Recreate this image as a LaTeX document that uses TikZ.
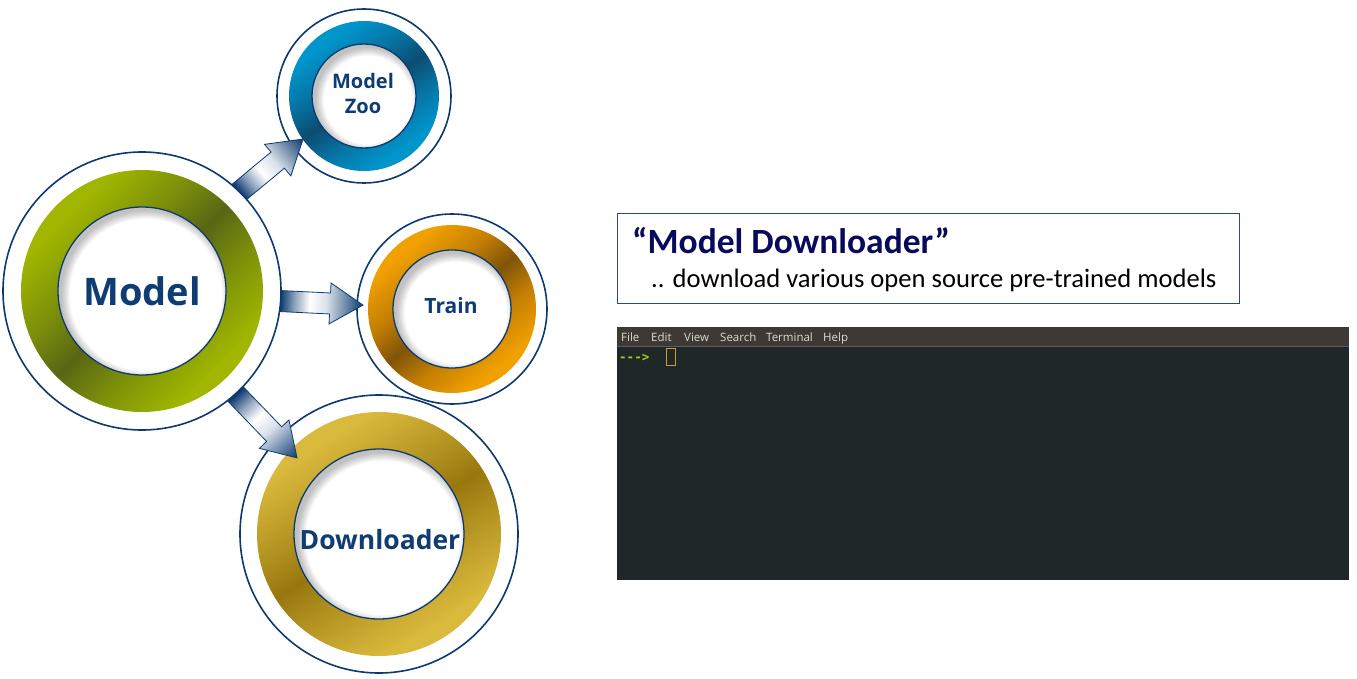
\documentclass[tikz,border=0pt]{standalone}
\usepackage{fontspec}
\setmainfont{Open Sans}
\newfontfamily\labelfont{Open Sans}
\newfontfamily\slidefont{Carlito}
\newfontfamily\uifont{Open Sans}
\newfontfamily\termfont{DejaVu Sans Mono}
\usetikzlibrary{calc}

% palette
\definecolor{navy}{RGB}{12,58,112}
\definecolor{labelblue}{RGB}{14,60,115}
\definecolor{titleblue}{RGB}{10,10,92}
\definecolor{boxline}{RGB}{40,75,125}
\definecolor{greenL}{RGB}{160,182,0}
\definecolor{greenM}{RGB}{124,144,10}
\definecolor{greenD}{RGB}{88,102,20}
\definecolor{blueL}{RGB}{0,150,204}
\definecolor{blueM}{RGB}{6,116,164}
\definecolor{blueD}{RGB}{12,76,112}
\definecolor{orangeL}{RGB}{240,160,0}
\definecolor{orangeM}{RGB}{196,126,4}
\definecolor{orangeD}{RGB}{128,84,8}
\definecolor{goldL}{RGB}{218,186,60}
\definecolor{goldM}{RGB}{184,152,36}
\definecolor{goldD}{RGB}{152,120,14}
\definecolor{menubar}{RGB}{61,58,53}
\definecolor{menutext}{RGB}{222,219,212}
\definecolor{termbg}{RGB}{31,39,41}
\definecolor{prompt}{RGB}{178,200,30}
\definecolor{cursor}{RGB}{200,160,40}

% ring shadings: light - dark - light across the ring
\pgfdeclarehorizontalshading{greenring}{100bp}{color(0bp)=(greenL); color(28bp)=(greenL); color(40bp)=(greenM); color(50bp)=(greenD); color(60bp)=(greenM); color(72bp)=(greenL); color(100bp)=(greenL)}
\pgfdeclarehorizontalshading{bluering}{100bp}{color(0bp)=(blueL); color(28bp)=(blueL); color(40bp)=(blueM); color(50bp)=(blueD); color(60bp)=(blueM); color(72bp)=(blueL); color(100bp)=(blueL)}
\pgfdeclarehorizontalshading{orangering}{100bp}{color(0bp)=(orangeL); color(28bp)=(orangeL); color(40bp)=(orangeM); color(50bp)=(orangeD); color(60bp)=(orangeM); color(72bp)=(orangeL); color(100bp)=(orangeL)}
\pgfdeclarehorizontalshading{goldring}{100bp}{color(0bp)=(goldL); color(28bp)=(goldL); color(40bp)=(goldM); color(50bp)=(goldD); color(60bp)=(goldM); color(72bp)=(goldL); color(100bp)=(goldL)}
% block arrow: dark at the tail, white in the shaft, dark at the tip
\pgfdeclarehorizontalshading{arrowshade}{100bp}{color(0bp)=(navy); color(30bp)=(navy); color(38bp)=(navy!45); color(46bp)=(white); color(55bp)=(navy!15); color(75bp)=(navy); color(100bp)=(navy)}

% soft shadow cast on the top-left of a white disc
\newcommand\discshadow[2]{%
  \begin{scope}
    \clip (#1) circle (#2pt);
    \foreach \d in {0,1.5,3,4.5,6,7.5}{
      \draw[black, opacity=0.045, line width=40pt] ($(#1)+(4,4)$) circle ({(#2-\d+20)*1pt});
    }
  \end{scope}}

% ring with white centre: node, shading, angle, ring radius, centre radius
\newcommand\ringdisc[5]{%
  \shade[shading=#2, shading angle=#3] (#1.center) circle (#4pt);
  \fill[white] (#1.center) circle (#5pt);
  \discshadow{#1.center}{#5}
  \draw[navy, line width=1.3pt] (#1.center) circle (#5pt);}

% block arrow from a named tail coordinate, rotated by #2, of length #3
\newcommand\blockarrow[3]{%
  \begin{scope}[transform canvas={shift={(#1)}, rotate=#2}]
    \shade[shading=arrowshade, draw=navy, line width=0.8pt, line join=miter]
      (0,-10.5) -- ({#3-33},-10.5) -- ({#3-33},-20.5) -- (#3,0)
      -- ({#3-33},20.5) -- ({#3-33},10.5) -- (0,10.5) -- cycle;
  \end{scope}}

\tikzset{
  halo/.style={circle, inner sep=0pt, draw=navy, line width=1.6pt},
  lbl/.style={text=labelblue, inner sep=0pt, align=center},
  menuitem/.style={anchor=base west, inner sep=0pt, text=menutext, font=\uifont\fontsize{11.5}{13}\selectfont},
}

\begin{document}
\begin{tikzpicture}[x=1pt, y=-1pt]
\useasboundingbox (0,0) rectangle (1357,679);
\fill[white] (0,0) rectangle (1357,679);

% ---- target circles ----
\node[halo, minimum size=278pt] (dl) at (379,534) {};
\ringdisc{dl}{goldring}{-58}{122}{85}
\node[lbl, font=\labelfont\bfseries\fontsize{26.5}{30}\selectfont] (dltxt) at (380,540) {Downloader};

\node[halo, minimum size=190pt] (train) at (452,309) {};
\ringdisc{train}{orangering}{-50}{84}{59}
\node[lbl, font=\labelfont\bfseries\fontsize{21}{24}\selectfont] (traintxt) at (451,306) {Train};

\node[halo, minimum size=174pt] (zoo) at (364,96) {};
\ringdisc{zoo}{bluering}{-55}{75}{52}
\node[lbl, font=\labelfont\bfseries\fontsize{20}{25}\selectfont] (zootxt) at (363,94) {Model\\Zoo};

% ---- connectors ----
\coordinate (a1) at (232.3,197.8);
\coordinate (a2) at (271.1,300.6);
\coordinate (a3) at (229.1,387.3);
\blockarrow{a1}{39.7}{92}
\blockarrow{a2}{-2.8}{92}
\blockarrow{a3}{-46.1}{98}

% ---- source circle ----
\node[halo, fill=white, minimum size=278pt] (model) at (142,291) {};
\ringdisc{model}{greenring}{-45}{121}{84}
\node[lbl, font=\labelfont\bfseries\fontsize{38}{40}\selectfont] (modeltxt) at (142,291) {Model};

% ---- caption box ----
\node[draw=boxline, line width=1.4pt, minimum width=622pt, minimum height=90pt, anchor=north west, inner sep=0pt] (box) at (617,213) {};
\node[anchor=base west, inner sep=0pt, text=titleblue, font=\slidefont\bfseries\fontsize{35.5}{40}\selectfont] (title) at (632,253) {“Model Downloader”};
\node[anchor=base west, inner sep=0pt, text=black, font=\slidefont\fontsize{26.6}{30}\selectfont] (sub) at (651,287) {.. download various open source pre-trained models};

% ---- terminal window ----
\node[fill=menubar, minimum width=732pt, minimum height=19pt, anchor=north west, inner sep=0pt] (menu) at (617,327) {};
\node[fill=termbg, minimum width=732pt, minimum height=234pt, anchor=north west, inner sep=0pt] (term) at (617,346) {};
\draw[white!25!termbg, line width=0.8pt] (menu.south west) -- (menu.south east);
\node[menuitem] (mfile) at (621,341.5) {File};
\node[menuitem] (medit) at (651,341.5) {Edit};
\node[menuitem] (mview) at (684,341.5) {View};
\node[menuitem] (msearch) at (720,341.5) {Search};
\node[menuitem] (mterm) at (766,341.5) {Terminal};
\node[menuitem] (mhelp) at (823,341.5) {Help};
\node[anchor=base west, inner sep=0pt, text=prompt, font=\termfont\bfseries\fontsize{12.5}{14}\selectfont] (prompt) at (619,361) {--->};
\node[draw=cursor, line width=1.2pt, minimum width=9pt, minimum height=17pt, inner sep=0pt, anchor=north west] (cur) at (666,348) {};
\end{tikzpicture}
\end{document}
